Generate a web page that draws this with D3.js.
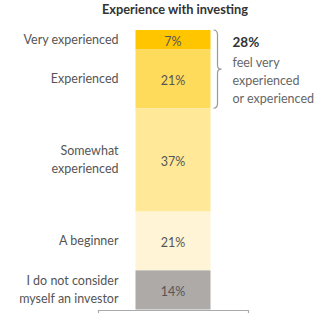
<!DOCTYPE html>
<html><head><meta charset="utf-8">
<script src="https://cdn.jsdelivr.net/npm/d3@7"></script>
<style>
body{margin:0;background:#fff;}
svg{display:block;font-family:Lato,"Open Sans",sans-serif;}
</style></head>
<body><svg id="c" width="325" height="325"></svg>
<script>
const title = "Experience with investing";
const categories = ["Very experienced","Experienced","Somewhat experienced","A beginner","I do not consider myself an investor"];
const labelLines = [["Very experienced"],["Experienced"],["Somewhat","experienced"],["A beginner"],["I do not consider","myself an investor"]];
const values = [7,21,37,21,14];
const colors = ["#FFC600","#FFDB5C","#FFE999","#FFF4D6","#ADAAA8"];
const bracketValue = 28;
const bracketLines = ["feel very","experienced","or experienced"];

const svg = d3.select("#c");
const x = d3.scaleBand().domain(["all"]).range([98,248]).paddingInner(0).paddingOuter(0.5);
const y = d3.scaleLinear().domain([0,100]).range([30,309.5]);

let cum = 0;
const segs = values.map((v,i)=>{const s={i,v,y0:cum,y1:cum+v};cum+=v;return s;});

svg.append("text").attr("x",x("all")+x.bandwidth()/2+2).attr("y",14)
  .attr("text-anchor","middle").attr("font-size",12.8).attr("font-weight","bold").attr("fill","#333").text(title);

svg.selectAll("rect.seg").data(segs).enter().append("rect")
  .attr("x",x("all")).attr("width",x.bandwidth())
  .attr("y",d=>y(d.y0)).attr("height",d=>y(d.y1)-y(d.y0))
  .attr("fill",(d,i)=>colors[i]);

svg.selectAll("text.val").data(segs).enter().append("text")
  .attr("x",x("all")+x.bandwidth()/2).attr("y",d=>(y(d.y0)+y(d.y1))/2+2)
  .attr("dy","0.35em").attr("text-anchor","middle").attr("font-size",12.5).attr("fill","#555")
  .text(d=>d.v+"%");

segs.forEach((d,i)=>{
  const lines = labelLines[i];
  const cy = (y(d.y0)+y(d.y1))/2;
  const lh = 18;
  const t = svg.append("text").attr("text-anchor","end").attr("font-size",12.5).attr("fill","#555");
  lines.forEach((ln,k)=>{
    t.append("tspan").attr("x",x("all")-17).attr("y",cy+(k-(lines.length-1)/2)*lh).attr("dy","0.35em").text(ln);
  });
});

// axis
const ax = svg.append("g").attr("transform","translate(0,310)")
  .call(d3.axisBottom(x).tickSize(0).tickSizeOuter(3).tickFormat(""));
ax.select(".domain").attr("stroke","#aaa").attr("stroke-width",1.2);

// brace
const bx = x("all")+x.bandwidth()+3, t0=y(0), t1=y(bracketValue), m=(t0+t1)/2;
const bp = `M${bx},${t0} Q${bx+4},${t0} ${bx+4},${t0+5} L${bx+4},${m-4} Q${bx+4},${m} ${bx+8},${m} Q${bx+4},${m} ${bx+4},${m+4} L${bx+4},${t1-5} Q${bx+4},${t1} ${bx},${t1}`;
svg.append("path").attr("d",bp).attr("fill","none").attr("stroke","#999").attr("stroke-width",1.2);

const tx = bx+19;
svg.append("text").attr("x",tx).attr("y",47).attr("font-size",13.5).attr("font-weight","bold").attr("fill","#333").text(bracketValue+"%");
const bt = svg.append("text").attr("font-size",12.5).attr("fill","#666");
bracketLines.forEach((ln,k)=>bt.append("tspan").attr("x",tx).attr("y",67+k*18).text(ln));
</script></body></html>
